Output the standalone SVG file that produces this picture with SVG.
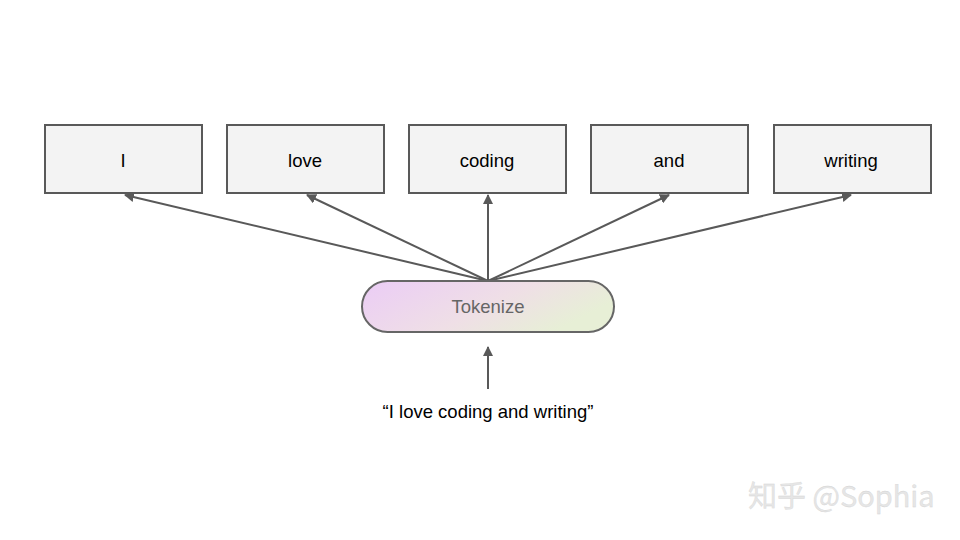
<svg xmlns="http://www.w3.org/2000/svg" width="960" height="540" viewBox="0 0 960 540">
<style>
.box{fill:#f3f3f3;stroke:#595959;stroke-width:2}
.lbl{font-family:"Liberation Sans",Arial,sans-serif;font-size:18.5px;fill:#000;text-anchor:middle;dominant-baseline:central}
.con{stroke:#595959;stroke-width:2;fill:none;marker-end:url(#ah)}
</style>
<defs>
<marker id="ah" viewBox="0 0 10 10" refX="9" refY="5" markerWidth="5" markerHeight="5" orient="auto" markerUnits="strokeWidth">
<path d="M0,0 L10,5 L0,10 z" fill="#595959"/>
</marker>
<linearGradient id="pg" x1="0" y1="0" x2="1" y2="0.4">
<stop offset="0" stop-color="#ebccf6"/>
<stop offset="0.6" stop-color="#efdfe6"/>
<stop offset="1" stop-color="#e7efd6"/>
</linearGradient>
</defs>
<rect width="960" height="540" fill="#fff"/>
<g id="connectors">
<line class="con" x1="488" y1="281" x2="125" y2="195"/>
<line class="con" x1="488" y1="281" x2="307" y2="195"/>
<line class="con" x1="488" y1="281" x2="488" y2="195"/>
<line class="con" x1="488" y1="281" x2="669" y2="195"/>
<line class="con" x1="488" y1="281" x2="851" y2="195"/>
<line class="con" x1="488" y1="389" x2="488" y2="347"/>
</g>
<g id="node-I"><rect class="box" x="45" y="125" width="157" height="68"/><text class="lbl" x="123" y="160">I</text></g>
<g id="node-love"><rect class="box" x="227" y="125" width="157" height="68"/><text class="lbl" x="305" y="160">love</text></g>
<g id="node-coding"><rect class="box" x="409" y="125" width="157" height="68"/><text class="lbl" x="487" y="160">coding</text></g>
<g id="node-and"><rect class="box" x="591" y="125" width="157" height="68"/><text class="lbl" x="669" y="160">and</text></g>
<g id="node-writing"><rect class="box" x="774" y="125" width="157" height="68"/><text class="lbl" x="851" y="160">writing</text></g>
<g id="node-tokenize"><rect x="362" y="281" width="252" height="51" rx="25.5" fill="url(#pg)" stroke="#666" stroke-width="2"/><text class="lbl" x="488" y="306" style="fill:#666">Tokenize</text></g>
<g id="input"><text class="lbl" x="488" y="411">“I love coding and writing”</text></g>
<text x="748" y="507" font-family="'Noto Sans CJK SC','Noto Sans',sans-serif" font-size="29" fill="#e6e6e6" stroke="#d3d3d3" stroke-width="0.3">知乎 @Sophia</text>
</svg>
